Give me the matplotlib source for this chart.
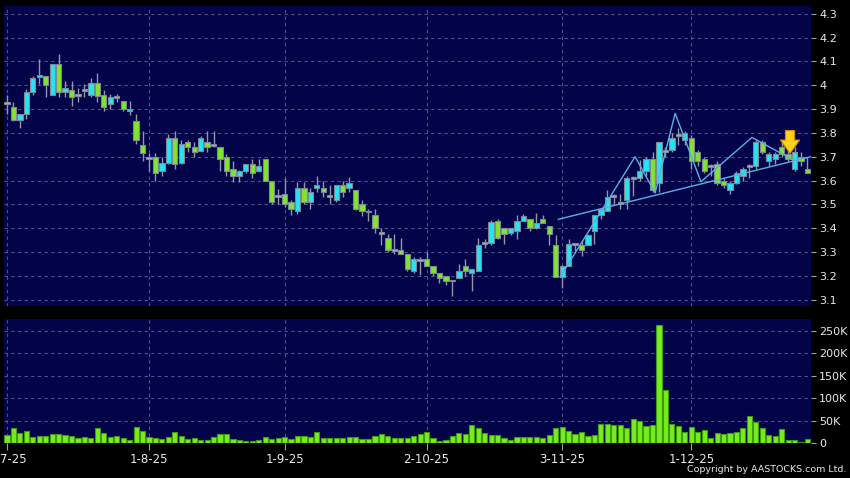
import matplotlib.pyplot as plt
import numpy as np
from matplotlib import font_manager

# daily candles, index 0 = 2-7-25 ... index 124 = last session
opens = [3.93, 3.91, 3.855, 3.88, 3.97, 4.035, 4.04, 3.96, 4.09, 3.97,
         3.98, 3.96, 3.98, 3.96, 4.01, 3.96, 3.92, 3.95, 3.935, 3.89,
         3.85, 3.75, 3.695, 3.70, 3.64, 3.675, 3.78, 3.675, 3.76, 3.74,
         3.725, 3.76, 3.75, 3.74, 3.70, 3.65, 3.62, 3.64, 3.67, 3.64,
         3.69, 3.60, 3.535, 3.545, 3.51, 3.47, 3.57, 3.51, 3.57, 3.57,
         3.535, 3.52, 3.58, 3.57, 3.56, 3.50, 3.47, 3.455, 3.38, 3.36,
         3.31, 3.31, 3.29, 3.22, 3.265, 3.27, 3.24, 3.21, 3.20, 3.18,
         3.19, 3.24, 3.21, 3.22, 3.337, 3.337, 3.43, 3.40, 3.38, 3.39,
         3.43, 3.44, 3.40, 3.44, 3.41, 3.33, 3.195, 3.24, 3.335, 3.33,
         3.33, 3.39, 3.455, 3.47, 3.535, 3.51, 3.52, 3.61, 3.61, 3.64,
         3.69, 3.59, 3.725, 3.73, 3.785, 3.77, 3.78, 3.72, 3.69, 3.66,
         3.67, 3.60, 3.56, 3.59, 3.62, 3.66, 3.66, 3.76, 3.68, 3.69,
         3.74, 3.71, 3.65, 3.70, 3.65]
highs = [3.96, 3.93, 3.88, 3.985, 4.04, 4.11, 4.04, 4.09, 4.13, 4.02,
         4.02, 3.99, 4.005, 4.03, 4.05, 3.98, 3.965, 3.965, 3.935, 3.935,
         3.88, 3.81, 3.715, 3.715, 3.70, 3.795, 3.81, 3.77, 3.77, 3.76,
         3.785, 3.81, 3.81, 3.74, 3.71, 3.68, 3.645, 3.67, 3.69, 3.69,
         3.69, 3.60, 3.565, 3.61, 3.52, 3.595, 3.595, 3.57, 3.62, 3.60,
         3.58, 3.58, 3.60, 3.615, 3.56, 3.52, 3.48, 3.48, 3.40, 3.375,
         3.375, 3.36, 3.29, 3.28, 3.28, 3.30, 3.24, 3.21, 3.20, 3.18,
         3.25, 3.27, 3.23, 3.36, 3.355, 3.435, 3.44, 3.40, 3.40, 3.455,
         3.46, 3.44, 3.465, 3.455, 3.41, 3.37, 3.245, 3.355, 3.335, 3.35,
         3.375, 3.455, 3.485, 3.56, 3.545, 3.545, 3.62, 3.62, 3.685, 3.70,
         3.72, 3.76, 3.74, 3.80, 3.82, 3.81, 3.79, 3.73, 3.70, 3.67,
         3.68, 3.61, 3.60, 3.64, 3.655, 3.67, 3.77, 3.77, 3.72, 3.72,
         3.76, 3.73, 3.74, 3.72, 3.70]
lows = [3.88, 3.85, 3.82, 3.86, 3.96, 4.005, 3.95, 3.96, 3.95, 3.95,
        3.915, 3.93, 3.95, 3.95, 3.93, 3.89, 3.90, 3.93, 3.89, 3.875,
        3.755, 3.68, 3.64, 3.60, 3.62, 3.67, 3.65, 3.67, 3.72, 3.70,
        3.725, 3.72, 3.74, 3.64, 3.62, 3.595, 3.595, 3.63, 3.61, 3.64,
        3.60, 3.50, 3.50, 3.49, 3.455, 3.46, 3.50, 3.48, 3.55, 3.53,
        3.50, 3.51, 3.53, 3.55, 3.475, 3.45, 3.43, 3.38, 3.33, 3.30,
        3.29, 3.29, 3.22, 3.21, 3.205, 3.24, 3.20, 3.17, 3.16, 3.115,
        3.19, 3.20, 3.135, 3.22, 3.315, 3.33, 3.355, 3.335, 3.37, 3.355,
        3.43, 3.39, 3.395, 3.42, 3.33, 3.195, 3.15, 3.24, 3.30, 3.285,
        3.33, 3.335, 3.44, 3.47, 3.50, 3.48, 3.48, 3.535, 3.60, 3.62,
        3.55, 3.55, 3.70, 3.72, 3.75, 3.75, 3.65, 3.66, 3.63, 3.62,
        3.58, 3.57, 3.545, 3.585, 3.60, 3.61, 3.65, 3.71, 3.66, 3.67,
        3.70, 3.68, 3.64, 3.66, 3.63]
closes = [3.92, 3.855, 3.88, 3.97, 4.03, 4.04, 4.00, 4.09, 3.97, 3.99,
          3.95, 3.96, 3.98, 4.01, 3.955, 3.91, 3.95, 3.95, 3.90, 3.90,
          3.77, 3.715, 3.695, 3.63, 3.675, 3.78, 3.67, 3.755, 3.74, 3.72,
          3.78, 3.74, 3.75, 3.69, 3.64, 3.62, 3.64, 3.67, 3.63, 3.66,
          3.60, 3.51, 3.535, 3.50, 3.48, 3.57, 3.51, 3.55, 3.58, 3.55,
          3.535, 3.58, 3.55, 3.59, 3.48, 3.47, 3.47, 3.40, 3.38, 3.31,
          3.31, 3.29, 3.23, 3.27, 3.265, 3.24, 3.21, 3.19, 3.18, 3.18,
          3.22, 3.22, 3.23, 3.33, 3.337, 3.425, 3.36, 3.375, 3.40, 3.43,
          3.45, 3.40, 3.42, 3.42, 3.375, 3.195, 3.24, 3.335, 3.335, 3.31,
          3.37, 3.455, 3.48, 3.53, 3.535, 3.50, 3.61, 3.61, 3.64, 3.69,
          3.56, 3.76, 3.725, 3.78, 3.795, 3.80, 3.68, 3.68, 3.64, 3.66,
          3.59, 3.58, 3.59, 3.63, 3.65, 3.66, 3.76, 3.72, 3.71, 3.71,
          3.71, 3.69, 3.72, 3.68, 3.63]
volumes_k = [18.5, 35, 22, 27, 13, 17, 17, 21, 21.5, 18.5,
             17, 12.5, 14, 11, 35, 23, 14, 15.5, 12, 8,
             37, 26.5, 14, 12, 10.5, 15, 24.5, 17, 9.5, 11,
             8, 6.5, 15, 20, 20, 9.5, 6.5, 5, 6, 7.5,
             14, 9.5, 12.5, 15, 9.5, 17, 15.5, 15, 25, 12,
             12, 12, 12, 14, 14, 9, 9, 16, 20, 16,
             12.5, 11, 11, 17, 20, 24.5, 12, 5, 6.5, 16,
             23, 21.5, 41.5, 33, 23, 18, 18, 12, 6.5, 14,
             13, 13, 15, 11, 18, 33, 35.5, 28, 20.5, 25,
             17, 19, 43.5, 42, 41.5, 40, 35, 55, 49.5, 38,
             40, 262, 118, 43, 38, 26, 35.5, 26, 29, 12,
             23.5, 20, 22, 24.5, 33, 60, 46.5, 34, 18, 16,
             32, 8, 8, 3, 9]

date_labels = ['2-7-25', '1-8-25', '1-9-25', '2-10-25', '3-11-25', '1-12-25']
date_idx = [0, 22, 43, 65, 86, 106]
price_ticks = [3.1, 3.2, 3.3, 3.4, 3.5, 3.6, 3.7, 3.8, 3.9, 4.0, 4.1, 4.2, 4.3]
price_labels = ['3.1', '3.2', '3.3', '3.4', '3.5', '3.6', '3.7', '3.8', '3.9', '4', '4.1', '4.2', '4.3']
vol_ticks = [0, 50, 100, 150, 200, 250]
vol_labels = ['0', '50K', '100K', '150K', '200K', '250K']

# drawn trend lines (index, price)
trend_x = [85.4, 124.5]
trend_y = [3.437, 3.70]
zig_x = [85.7, 97.3, 100.4, 103.5, 107.5, 115.4, 121.8]
zig_y = [3.195, 3.70, 3.548, 3.882, 3.595, 3.781, 3.686]
arrow_x, arrow_top, arrow_tip = 121.3, 3.81, 3.714

NAVY = '#03034a'
CYAN = '#25e4f2'
GREEN = '#80e52c'
GRID = '#52528a'
TXT = '#e8e8e8'

o = np.array(opens)
c = np.array(closes)
x = np.arange(len(o))

fig = plt.figure(figsize=(8.5, 4.78), dpi=100, facecolor='black')
ax1 = fig.add_axes([4 / 850, 1 - 306 / 478, 806.7 / 850, 300 / 478])
ax2 = fig.add_axes([4 / 850, 1 - 443.3 / 478, 806.7 / 850, 124.3 / 478])

for ax in (ax1, ax2):
    ax.set_facecolor(NAVY)
    for s in ax.spines.values():
        s.set_visible(False)
    ax.set_xlim(-0.46, 124.5)
    ax.yaxis.tick_right()
    ax.tick_params(axis='y', colors='#a0a0a0', labelcolor=TXT, labelsize=8,
                   length=3.5, width=0.8, pad=2.5)
    ax.grid(True, color=GRID, linestyle=(0, (3, 3)), linewidth=0.8)
    ax.set_axisbelow(True)
    ax.set_xticks(date_idx)

# price panel
ax1.set_ylim(3.073, 4.333)
ax1.set_yticks(price_ticks)
ax1.set_yticklabels(price_labels)
ax1.tick_params(axis='x', length=0, labelbottom=False)

up = c > o
doji = np.abs(c - o) < 0.004
cols = np.where(up, CYAN, GREEN).astype(object)
cols[doji] = '#9db4c6'
ax1.vlines(x, lows, highs, color='#9494a6', linewidth=1, zorder=2)
bottoms = np.minimum(o, c)
heights = np.maximum(np.abs(c - o), 0.008)
bottoms = np.where(doji, o - 0.004, bottoms)
ax1.bar(x, heights, width=0.82, bottom=bottoms, color=list(cols),
        edgecolor='#7d8894', linewidth=0.8, zorder=3)

ax1.plot(trend_x, trend_y, color='#5aaee6', linewidth=1, zorder=4)
ax1.plot(zig_x, zig_y, color='#5aaee6', linewidth=1, zorder=4)
ax1.annotate('', xy=(arrow_x, arrow_tip), xytext=(arrow_x, arrow_top),
             arrowprops=dict(arrowstyle='simple,head_length=0.8,head_width=1.15,tail_width=0.55',
                             fc='#ffd21a', ec='#d08a00', lw=0.8, mutation_scale=12,
                             shrinkA=0, shrinkB=0),
             zorder=5)

# volume panel
ax2.set_ylim(0, 276)
ax2.set_yticks(vol_ticks)
ax2.set_yticklabels(vol_labels)
ax2.bar(x, volumes_k, width=0.8, color='#74ee1c', edgecolor='#3f9a12',
        linewidth=0.8, zorder=3)
ax2.set_xticklabels(date_labels)
ax2.tick_params(axis='x', colors='#a0a0a0', labelcolor=TXT, labelsize=8.5,
                length=5, width=0.8, pad=2)

names = {f.name for f in font_manager.fontManager.ttflist}
if 'Liberation Sans Narrow' in names:
    cfam, csize = 'Liberation Sans Narrow', 9
else:
    cfam, csize = 'DejaVu Sans', 6.8
fig.text(846 / 850, 1 - 470 / 478, 'Copyright by AASTOCKS.com Ltd.', color=TXT,
         fontsize=csize, family=cfam, ha='right', va='center')

fig.savefig('out.png', dpi=100, facecolor='black')
